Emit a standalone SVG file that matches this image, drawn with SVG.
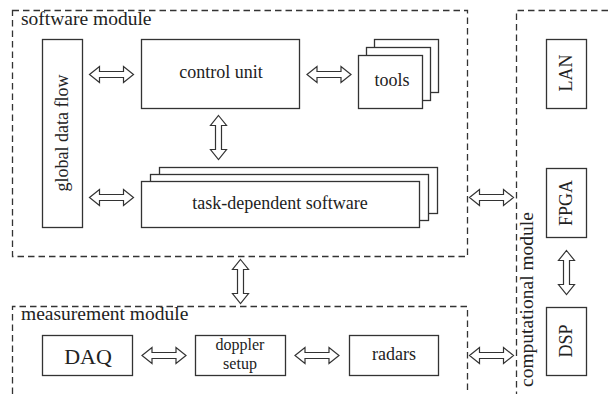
<svg xmlns="http://www.w3.org/2000/svg" xmlns:xlink="http://www.w3.org/1999/xlink" width="608" height="394" viewBox="0 0 608 394">
<style>
  .bg { fill: #ffffff; }
  .box { fill: #ffffff; stroke: #333333; stroke-width: 1.3; }
  .dash { fill: none; stroke: #333333; stroke-width: 1.3; stroke-dasharray: 6.5 4; }
  .arrow { fill: #ffffff; stroke: #333333; stroke-width: 1.2; stroke-linejoin: miter; }
</style>
<defs>
  <path id="dblarrow" class="arrow" d="M -22 0 L -12 -8 L -12 -3 L 12 -3 L 12 -8 L 22 0 L 12 8 L 12 3 L -12 3 L -12 8 Z"/>
</defs>
<rect class="bg" x="0" y="0" width="608" height="394"/>

<g id="software-module">
  <rect class="dash" x="12.5" y="10.5" width="455" height="246"/>
  <text font-family="Liberation Serif" font-size="19.5" fill="#222" x="21" y="25">software module</text>
</g>
<g id="measurement-module">
  <path class="dash" d="M 12.5 394 V 306.5 H 467.5 V 394"/>
  <text font-family="Liberation Serif" font-size="19.5" fill="#222" x="21" y="320">measurement module</text>
</g>
<g id="computational-module">
  <path class="dash" d="M 608 10.5 H 516.5 V 394"/>
  <text font-family="Liberation Serif" font-size="19.5" fill="#222" transform="translate(533,387) rotate(-90)" x="0" y="0">computational module</text>
</g>

<g id="global-data-flow">
  <rect class="box" x="42.5" y="39.5" width="40" height="188"/>
  <text font-family="Liberation Serif" font-size="18" fill="#222" text-anchor="middle" transform="translate(68,133) rotate(-90)" x="0" y="0">global data flow</text>
</g>
<g id="control-unit">
  <rect class="box" x="141.5" y="39.5" width="158" height="69"/>
  <text font-family="Liberation Serif" font-size="18" fill="#222" text-anchor="middle" x="221" y="78">control unit</text>
</g>
<g id="tools">
  <rect class="box" x="374.5" y="39.5" width="64" height="53"/>
  <rect class="box" x="366.5" y="47.5" width="64" height="53"/>
  <rect class="box" x="358.5" y="55.5" width="64" height="53"/>
  <text font-family="Liberation Serif" font-size="18" fill="#222" text-anchor="middle" x="392" y="86">tools</text>
</g>
<g id="task-dependent-software">
  <rect class="box" x="159.5" y="167.5" width="278" height="46"/>
  <rect class="box" x="150.5" y="174.5" width="278" height="46"/>
  <rect class="box" x="141.5" y="181.5" width="278" height="46"/>
  <text font-family="Liberation Serif" font-size="18" fill="#222" text-anchor="middle" x="280" y="209">task-dependent software</text>
</g>
<g id="lan">
  <rect class="box" x="546.5" y="39.5" width="40" height="69"/>
  <text font-family="Liberation Serif" font-size="18" fill="#222" text-anchor="middle" transform="translate(572,73) rotate(-90)" x="0" y="0">LAN</text>
</g>
<g id="fpga">
  <rect class="box" x="546.5" y="168.5" width="40" height="69"/>
  <text font-family="Liberation Serif" font-size="18" fill="#222" text-anchor="middle" transform="translate(572,203) rotate(-90)" x="0" y="0">FPGA</text>
</g>
<g id="dsp">
  <rect class="box" x="546.5" y="307.5" width="40" height="68"/>
  <text font-family="Liberation Serif" font-size="18" fill="#222" text-anchor="middle" transform="translate(572,341) rotate(-90)" x="0" y="0">DSP</text>
</g>
<g id="daq">
  <rect class="box" x="42.5" y="335.5" width="90" height="40"/>
  <text font-family="Liberation Serif" font-size="22" fill="#222" text-anchor="middle" x="88" y="364">DAQ</text>
</g>
<g id="doppler-setup">
  <rect class="box" x="195.5" y="335.5" width="90" height="40"/>
  <text font-family="Liberation Serif" font-size="16" fill="#222" text-anchor="middle" x="240" y="350">doppler</text>
  <text font-family="Liberation Serif" font-size="16" fill="#222" text-anchor="middle" x="240" y="368.5">setup</text>
</g>
<g id="radars">
  <rect class="box" x="349.5" y="335.5" width="89" height="40"/>
  <text font-family="Liberation Serif" font-size="18" fill="#222" text-anchor="middle" x="394" y="360">radars</text>
</g>

<g id="connectors">
  <use xlink:href="#dblarrow" transform="translate(111.5,74.5)"/>
  <use xlink:href="#dblarrow" transform="translate(329,74.5)"/>
  <use xlink:href="#dblarrow" transform="translate(218.5,137.5) rotate(90)"/>
  <use xlink:href="#dblarrow" transform="translate(111.5,197.5)"/>
  <use xlink:href="#dblarrow" transform="translate(491.5,197.5)"/>
  <use xlink:href="#dblarrow" transform="translate(240.5,281.5) rotate(90)"/>
  <use xlink:href="#dblarrow" transform="translate(566.5,272.5) rotate(90)"/>
  <use xlink:href="#dblarrow" transform="translate(164,355.5)"/>
  <use xlink:href="#dblarrow" transform="translate(317,355.5)"/>
  <use xlink:href="#dblarrow" transform="translate(491.5,355.5)"/>
</g>
</svg>
